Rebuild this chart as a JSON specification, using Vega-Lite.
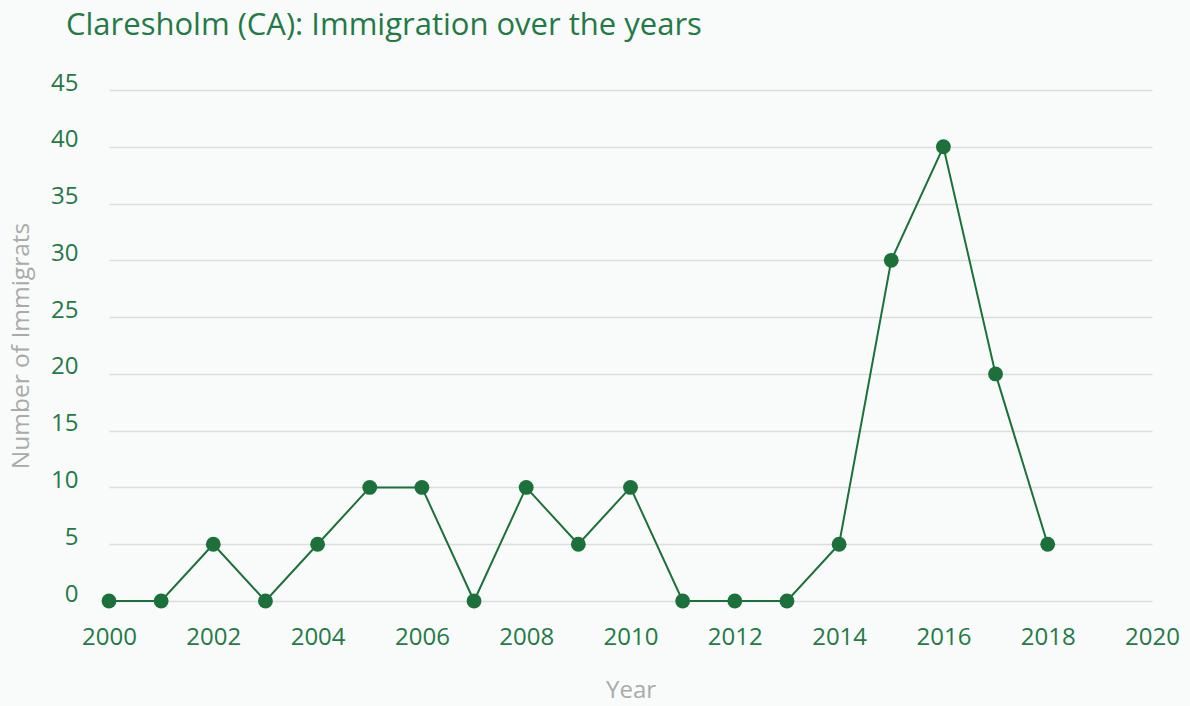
{
  "$schema": "https://vega.github.io/schema/vega-lite/v6.json",
  "autosize": "none",
  "width": 1043,
  "height": 511,
  "padding": {"left": 109, "top": 90, "right": 38, "bottom": 105},
  "background": "#f9fbfa",
  "config": {
    "view": {"stroke": null},
    "font": "Open Sans"
  },
  "title": {
    "text": "Claresholm (CA): Immigration over the years",
    "anchor": "start",
    "frame": "group",
    "dx": -43,
    "offset": 29,
    "baseline": "top",
    "fontSize": 31,
    "fontWeight": "normal",
    "color": "#237a45",
    "font": "Open Sans"
  },
  "data": {
    "values": [
      {"year": 2000, "immigrants": 0},
      {"year": 2001, "immigrants": 0},
      {"year": 2002, "immigrants": 5},
      {"year": 2003, "immigrants": 0},
      {"year": 2004, "immigrants": 5},
      {"year": 2005, "immigrants": 10},
      {"year": 2006, "immigrants": 10},
      {"year": 2007, "immigrants": 0},
      {"year": 2008, "immigrants": 10},
      {"year": 2009, "immigrants": 5},
      {"year": 2010, "immigrants": 10},
      {"year": 2011, "immigrants": 0},
      {"year": 2012, "immigrants": 0},
      {"year": 2013, "immigrants": 0},
      {"year": 2014, "immigrants": 5},
      {"year": 2015, "immigrants": 30},
      {"year": 2016, "immigrants": 40},
      {"year": 2017, "immigrants": 20},
      {"year": 2018, "immigrants": 5}
    ]
  },
  "mark": {
    "type": "line",
    "color": "#1b7139",
    "strokeWidth": 2,
    "point": {"filled": true, "size": 220, "color": "#1b7139", "opacity": 1}
  },
  "encoding": {
    "x": {
      "field": "year",
      "type": "quantitative",
      "scale": {"domain": [2000, 2020], "nice": false, "zero": false},
      "axis": {
        "title": "Year",
        "values": [2000, 2002, 2004, 2006, 2008, 2010, 2012, 2014, 2016, 2018, 2020],
        "format": "d",
        "grid": false,
        "domain": false,
        "ticks": false,
        "labelPadding": 24,
        "labelFontSize": 24,
        "labelColor": "#237a45",
        "labelFont": "Open Sans",
        "labelFlush": false,
        "titleFontSize": 24,
        "titleFontWeight": "normal",
        "titleColor": "#aaaaaa",
        "titleFont": "Open Sans",
        "titlePadding": 29
      }
    },
    "y": {
      "field": "immigrants",
      "type": "quantitative",
      "scale": {"domain": [0, 45], "nice": false},
      "axis": {
        "title": "Number of Immigrats",
        "values": [0, 5, 10, 15, 20, 25, 30, 35, 40, 45],
        "grid": true,
        "gridColor": "#dddddd",
        "gridWidth": 1.5,
        "domain": false,
        "ticks": false,
        "labelPadding": 31,
        "labelBaseline": "alphabetic",
        "labelFontSize": 24,
        "labelColor": "#237a45",
        "labelFont": "Open Sans",
        "titleFontSize": 24.5,
        "titleFontWeight": "normal",
        "titleColor": "#aaaaaa",
        "titleFont": "Open Sans",
        "titlePadding": 17
      }
    }
  }
}
